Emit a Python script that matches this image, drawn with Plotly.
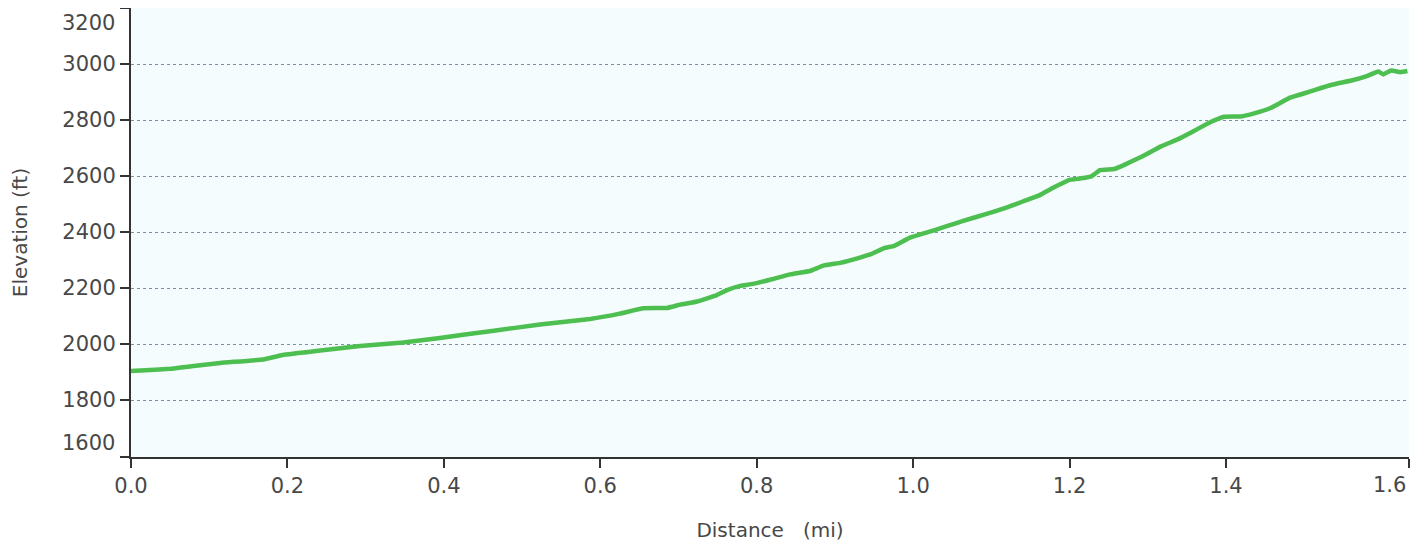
import plotly.graph_objects as go

# Elevation profile (distance in miles, elevation in feet)
distance_mi = [0.000, 0.012, 0.050, 0.080, 0.114, 0.169, 0.194, 0.242, 0.293, 0.348,
               0.395, 0.459, 0.523, 0.587, 0.625, 0.655, 0.685, 0.702, 0.724, 0.749,
               0.762, 0.779, 0.795, 0.817, 0.843, 0.868, 0.885, 0.908, 0.933, 0.946,
               0.963, 0.976, 0.996, 1.018, 1.043, 1.064, 1.095, 1.120, 1.141, 1.162,
               1.179, 1.201, 1.215, 1.228, 1.239, 1.257, 1.270, 1.292, 1.317, 1.339,
               1.359, 1.381, 1.398, 1.419, 1.436, 1.457, 1.482, 1.508, 1.534, 1.563,
               1.581, 1.595, 1.601, 1.611, 1.623, 1.632]
elevation_ft = [1904, 1906, 1912, 1922, 1933, 1945, 1961, 1977, 1993, 2006,
                2022, 2046, 2070, 2090, 2109, 2128, 2129, 2141, 2152, 2175,
                2193, 2208, 2215, 2230, 2249, 2261, 2280, 2291, 2310, 2321,
                2343, 2351, 2380, 2399, 2421, 2440, 2466, 2488, 2510, 2532,
                2558, 2587, 2592, 2599, 2621, 2625, 2640, 2669, 2706, 2732,
                2761, 2794, 2812, 2813, 2824, 2843, 2880, 2902, 2925, 2943,
                2958, 2973, 2963, 2977, 2971, 2975]

x_range = [0.0, 1.634]
y_range = [1597, 3200]
x_tick_vals = [0.0, 0.2, 0.4, 0.6, 0.8, 1.0, 1.2, 1.4, 1.634]
x_tick_text = ["0.0", "0.2", "0.4", "0.6", "0.8", "1.0", "1.2", "1.4", ""]
y_tick_vals = [1597, 1800, 2000, 2200, 2400, 2600, 2800, 3000, 3200]
y_tick_text = ["", "1800", "2000", "2200", "2400", "2600", "2800", "3000", ""]
end_labels = {"x_end": "1.6", "y_low": "1600", "y_high": "3200"}

FONT = "DejaVu Sans"
TXT = "#484848"
TICK_SIZE = 21
TITLE_SIZE = 20

fig = go.Figure()
fig.add_trace(go.Scatter(
    x=distance_mi, y=elevation_ft, mode="lines",
    line=dict(color="#4dbf50", width=4.5, shape="spline", smoothing=0.3),
    hoverinfo="skip", showlegend=False,
))

# page body has an 8px default margin, so the figure is sized to fit inside it
fig.update_layout(
    width=1411, height=534,
    margin=dict(l=123, r=10, t=0, b=85),
    paper_bgcolor="white",
    plot_bgcolor="#f5fcfd",
    font=dict(family=FONT, color=TXT, size=TICK_SIZE),
    xaxis=dict(
        range=x_range, tickmode="array", tickvals=x_tick_vals, ticktext=x_tick_text,
        showgrid=False, zeroline=False, automargin=False,
        showline=True, linecolor="#333333", linewidth=2,
        ticks="outside", ticklen=9, tickwidth=1.5, tickcolor="#333333",
        tickfont=dict(family=FONT, size=TICK_SIZE, color=TXT),
        title=dict(text="Distance\u00a0\u00a0\u00a0(mi)",
                   font=dict(family=FONT, size=TITLE_SIZE, color=TXT), standoff=29),
    ),
    yaxis=dict(
        range=y_range, tickmode="array", tickvals=y_tick_vals, ticktext=y_tick_text,
        showgrid=True, gridcolor="#7d8fa2", griddash="dot", gridwidth=1,
        zeroline=False, automargin=False,
        showline=True, linecolor="#333333", linewidth=2,
        ticks="outside", ticklen=9, tickwidth=1.5, tickcolor="#333333",
        tickfont=dict(family=FONT, size=TICK_SIZE, color=TXT),
        title=dict(text="Elevation (ft)",
                   font=dict(family=FONT, size=TITLE_SIZE, color=TXT), standoff=32),
    ),
)

# end-of-axis labels, drawn slightly inside the axis ends as in the reference
fig.add_annotation(x=0, xref="paper", y=y_range[1], yref="y",
                   text=end_labels["y_high"], showarrow=False,
                   xanchor="right", yanchor="middle", xshift=-14, yshift=-15,
                   font=dict(family=FONT, size=TICK_SIZE, color=TXT))
fig.add_annotation(x=0, xref="paper", y=y_range[0], yref="y",
                   text=end_labels["y_low"], showarrow=False,
                   xanchor="right", yanchor="middle", xshift=-14, yshift=14,
                   font=dict(family=FONT, size=TICK_SIZE, color=TXT))
fig.add_annotation(x=x_range[1], xref="x", y=0, yref="paper",
                   text=end_labels["x_end"], showarrow=False,
                   xanchor="center", yanchor="top", xshift=-20, yshift=-14,
                   font=dict(family=FONT, size=TICK_SIZE, color=TXT))

fig.write_html("out.html")
